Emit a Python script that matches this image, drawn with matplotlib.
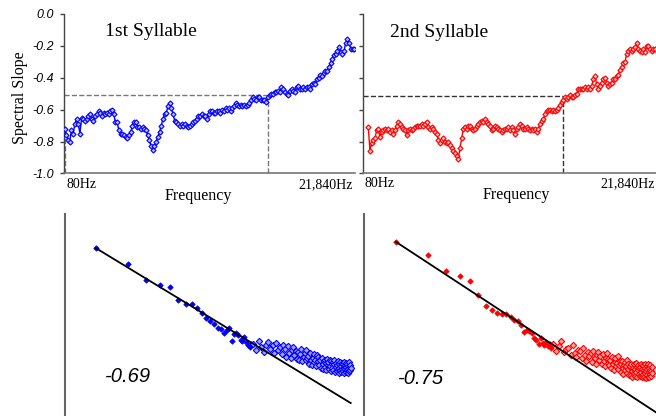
import numpy as np
import matplotlib
matplotlib.use("Agg")
import matplotlib.pyplot as plt

# ==============================
# DATA
# ==============================

f_lo, f_hi = 80, 21840

# spectral slope per frequency band, 1st syllable
slope_1 = [
    -0.72, -0.76, -0.79, -0.80, -0.73, -0.75, -0.69, -0.66, -0.69, -0.75,
    -0.65, -0.66, -0.67, -0.66, -0.64, -0.63, -0.66, -0.67, -0.64, -0.63,
    -0.61, -0.62, -0.64, -0.62, -0.63, -0.62, -0.63, -0.61, -0.60, -0.63,
    -0.68, -0.68, -0.73, -0.75, -0.75, -0.76, -0.77, -0.78, -0.76, -0.74,
    -0.70, -0.68, -0.68, -0.71, -0.71, -0.72, -0.71, -0.72, -0.73, -0.76,
    -0.79, -0.83, -0.85, -0.83, -0.80, -0.77, -0.74, -0.70, -0.66, -0.63,
    -0.62, -0.58, -0.56, -0.59, -0.63, -0.67, -0.68, -0.69, -0.70, -0.69,
    -0.70, -0.69, -0.70, -0.71, -0.70, -0.69, -0.68, -0.67, -0.66, -0.64,
    -0.64, -0.63, -0.64, -0.64, -0.66, -0.63, -0.61, -0.61, -0.62, -0.62,
    -0.61, -0.61, -0.62, -0.60, -0.61, -0.59, -0.60, -0.59, -0.61, -0.59,
    -0.58, -0.56, -0.57, -0.58, -0.57, -0.58, -0.57, -0.58, -0.57, -0.56,
    -0.54, -0.52, -0.53, -0.54, -0.52, -0.52, -0.54, -0.54, -0.54, -0.55,
    -0.52, -0.51, -0.50, -0.50, -0.49, -0.49, -0.48, -0.49, -0.46, -0.47,
    -0.49, -0.50, -0.51, -0.48, -0.47, -0.48, -0.49, -0.46, -0.45, -0.47,
    -0.47, -0.46, -0.47, -0.46, -0.46, -0.47, -0.44, -0.43, -0.44, -0.41,
    -0.40, -0.38, -0.39, -0.37, -0.36, -0.36, -0.33, -0.31, -0.28, -0.26,
    -0.25, -0.23, -0.21, -0.24, -0.25, -0.23, -0.18, -0.16, -0.18, -0.22,
    -0.22, -0.22,
]

# spectral slope per frequency band, 2nd syllable
slope_2 = [
    -0.71, -0.86, -0.81, -0.79, -0.78, -0.73, -0.72, -0.77, -0.74, -0.73,
    -0.72, -0.73, -0.72, -0.74, -0.73, -0.75, -0.73, -0.70, -0.68, -0.69,
    -0.71, -0.72, -0.73, -0.76, -0.73, -0.72, -0.73, -0.72, -0.71, -0.70,
    -0.70, -0.70, -0.69, -0.70, -0.69, -0.68, -0.71, -0.72, -0.71, -0.72,
    -0.74, -0.75, -0.79, -0.81, -0.79, -0.78, -0.80, -0.81, -0.80, -0.82,
    -0.84, -0.86, -0.87, -0.89, -0.91, -0.84, -0.78, -0.72, -0.71, -0.72,
    -0.70, -0.70, -0.72, -0.73, -0.72, -0.70, -0.69, -0.68, -0.67, -0.68,
    -0.66, -0.68, -0.69, -0.70, -0.73, -0.72, -0.70, -0.71, -0.72, -0.73,
    -0.74, -0.73, -0.72, -0.72, -0.71, -0.73, -0.71, -0.73, -0.75, -0.72,
    -0.71, -0.69, -0.70, -0.72, -0.72, -0.71, -0.72, -0.73, -0.72, -0.73,
    -0.72, -0.74, -0.72, -0.69, -0.67, -0.66, -0.63, -0.61, -0.60, -0.60,
    -0.61, -0.60, -0.61, -0.60, -0.59, -0.57, -0.55, -0.54, -0.52, -0.53,
    -0.52, -0.51, -0.52, -0.52, -0.51, -0.50, -0.47, -0.47, -0.47, -0.47,
    -0.46, -0.47, -0.46, -0.47, -0.45, -0.41, -0.39, -0.44, -0.47, -0.45,
    -0.43, -0.41, -0.40, -0.43, -0.45, -0.44, -0.43, -0.41, -0.41, -0.39,
    -0.38, -0.35, -0.33, -0.31, -0.30, -0.25, -0.23, -0.22, -0.23, -0.22,
    -0.21, -0.18, -0.22, -0.23, -0.24, -0.22, -0.24, -0.20, -0.20, -0.22,
    -0.23, -0.22, -0.22,
]

# dashed reference (frequency, slope)
cut_1 = (15330, -0.508)
cut_2 = (14830, -0.515)

yticks = [0.0, -0.2, -0.4, -0.6, -0.8, -1.0]
ytick_labels = ["0.0", "-0.2", "-0.4", "-0.6", "-0.8", "-1.0"]

# log power spectrum (relative log10 power) per frequency bin
bins_lo = list(range(1, 30))
pow_lo_1 = [
    0.00, -0.17, -0.34, -0.40, -0.42, -0.56, -0.60, -0.60, -0.64, -0.69,
    -0.75, -0.78, -0.81, -0.85, -0.86, -0.91, -0.87, -0.85, -0.99, -0.92,
    -0.91, -0.93, -0.98, -0.99, -0.95, -1.00, -1.03, -1.06, -1.02,
]
pow_lo_2 = [
    0.00, -0.14, -0.32, -0.37, -0.42, -0.57, -0.69, -0.73, -0.77, -0.78,
    -0.78, -0.81, -0.84, -0.85, -0.90, -0.97, -0.95, -0.96, -0.98, -1.04,
    -1.06, -1.10, -1.04, -1.09, -1.11, -1.08, -1.12, -1.10, -1.14,
]

bins_hi_1 = list(range(30, 252, 2))
pow_hi_1 = [
    -1.02, -1.09, -0.99, -1.06, -1.11, -1.03, -1.00, -1.08,
    -1.04, -1.12, -1.01, -1.09, -1.06, -1.13, -1.03,
    -1.08, -1.16, -1.05, -1.12, -1.17, -1.09, -1.06, -1.14, -1.10, -1.18,
    -1.11, -1.19, -1.13, -1.08, -1.21, -1.16, -1.12, -1.20, -1.09, -1.17,
    -1.15, -1.24, -1.12, -1.20, -1.25, -1.17, -1.13, -1.22, -1.19, -1.26,
    -1.14, -1.21, -1.16, -1.25, -1.18,
    -1.20, -1.28, -1.17, -1.24, -1.29, -1.21, -1.19, -1.27, -1.23, -1.30,
    -1.18, -1.25, -1.22, -1.29, -1.20, -1.26, -1.31, -1.21, -1.24, -1.28,
    -1.22, -1.30, -1.24, -1.19, -1.32, -1.27, -1.23, -1.31, -1.25, -1.21,
    -1.29, -1.33, -1.24, -1.28, -1.22, -1.30, -1.26, -1.32, -1.23, -1.29,
    -1.24, -1.31, -1.22, -1.28, -1.33, -1.25, -1.29, -1.23, -1.32, -1.27,
    -1.30, -1.24, -1.33, -1.26, -1.29, -1.22, -1.31, -1.27, -1.25, -1.30,
    -1.28,
]

bins_hi_2 = list(range(30, 258, 2))
pow_hi_2 = [
    -1.10, -1.18, -1.12, -1.07, -1.19, -1.15,
    -1.14, -1.22, -1.11, -1.20, -1.24, -1.16,
    -1.17, -1.25, -1.14, -1.22, -1.28, -1.19, -1.23,
    -1.20, -1.29, -1.17, -1.25, -1.31, -1.22, -1.19, -1.27,
    -1.23, -1.32, -1.21, -1.28, -1.34, -1.25, -1.20, -1.30, -1.26, -1.33,
    -1.27, -1.36, -1.24, -1.32, -1.38, -1.29, -1.25, -1.34, -1.30, -1.37,
    -1.23, -1.33, -1.28,
    -1.31, -1.40, -1.28, -1.36, -1.42, -1.33, -1.29, -1.38, -1.34, -1.41,
    -1.27, -1.37, -1.32, -1.43, -1.35,
    -1.34, -1.43, -1.31, -1.39, -1.45, -1.36, -1.32, -1.41, -1.37, -1.44,
    -1.30, -1.40, -1.35, -1.46, -1.38, -1.33, -1.42, -1.36, -1.44,
    -1.35, -1.44, -1.32, -1.40, -1.46, -1.37, -1.33, -1.42, -1.38, -1.45,
    -1.31, -1.41, -1.36, -1.47, -1.39, -1.34, -1.43, -1.37, -1.45, -1.32,
    -1.40, -1.36, -1.46, -1.38, -1.33, -1.42, -1.39, -1.44, -1.35, -1.41,
]

fit_1 = -0.69
fit_2 = -0.75

serif = "Liberation Serif"
sans = "Liberation Sans"

# ==============================
# FIGURE
# ==============================

fig = plt.figure(figsize=(6.56, 4.16), dpi=100)


def top_panel(rect, slope, color, fill, cut, xlim, title, title_xy, dash_color, show_labels):
    ax = fig.add_axes(rect)
    x = np.linspace(f_lo, f_hi, len(slope))
    ax.plot(x, slope, "-", color=color, lw=1.0, marker="D", ms=2.6,
            mfc=fill, mec=color, mew=0.8, zorder=3)
    ax.plot([xlim[0], cut[0]], [cut[1], cut[1]], "--", color=dash_color, lw=1.0, zorder=2)
    ax.plot([cut[0], cut[0]], [-1.0, cut[1]], "--", color=dash_color, lw=1.0, zorder=2)
    ax.set_xlim(*xlim)
    ax.set_ylim(-1.0, 0.0)
    for s in ["top", "right"]:
        ax.spines[s].set_visible(False)
    ax.spines["left"].set_color("#444444")
    ax.spines["bottom"].set_color("#777777")
    ax.spines["left"].set_linewidth(1.0)
    ax.spines["bottom"].set_linewidth(1.2)
    ax.set_xticks([])
    ax.set_yticks(yticks)
    if show_labels:
        ax.set_yticklabels(ytick_labels, fontstyle="italic", family=sans, fontsize=9)
    else:
        ax.set_yticklabels([])
    ax.tick_params(axis="y", length=3, width=1, color="#444444", pad=4)
    ax.text(title_xy[0], title_xy[1], title, transform=ax.transAxes,
            family=serif, fontsize=14, ha="left", va="center")
    return ax


ax1 = top_panel([0.0976, 0.583, 0.4436, 0.3834], slope_1, "#0000ff", "#b8b8ff", cut_1,
                (30, 21900), "1st Syllable", (0.141, 0.893), "#777777", True)
ax1.plot([f_lo, f_lo], [-1.0, slope_1[0]], "--", color="#777777", lw=1.0, zorder=2)
ax1.text(0.01, -0.072, "80Hz", transform=ax1.transAxes, family=serif, fontsize=10, ha="left", va="center")
ax1.text(0.992, -0.072, "21,840Hz", transform=ax1.transAxes, family=serif, fontsize=10, ha="right", va="center")
ax1.text(0.4615, -0.141, "Frequency", transform=ax1.transAxes, family=serif, fontsize=11.5, ha="center", va="center")

ax2 = top_panel([0.5529, 0.583, 0.4471, 0.3834], slope_2, "#ff0000", "#ffb8b8", cut_2,
                (-345, 21916), "2nd Syllable", (0.093, 0.881), "#333333", False)
ax2.text(0.005, -0.066, "80Hz", transform=ax2.transAxes, family=serif, fontsize=10, ha="left", va="center")
ax2.text(0.997, -0.066, "21,840Hz", transform=ax2.transAxes, family=serif, fontsize=10, ha="right", va="center")
ax2.text(0.525, -0.135, "Frequency", transform=ax2.transAxes, family=serif, fontsize=11.5, ha="center", va="center")

fig.text(20 / 656, 1 - 97.5 / 416, "Spectral Slope", rotation=90, family=serif,
         fontsize=11.5, ha="center", va="center")


def bottom_panel(rect, bins_lo, p_lo, bins_hi, p_hi, slope, color, fill, xlim, ylim, label, label_xy, k_end):
    ax = fig.add_axes(rect)
    ax.set_xscale("log")
    ax.plot(bins_lo, p_lo, "D", color=color, ms=2.8, mew=0.5, zorder=3)
    ax.plot(bins_hi, p_hi, "D", color=color, ms=3.2, mfc=fill, mec=color, mew=0.8, zorder=3)
    k = np.array([1, k_end])
    ax.plot(k, slope * np.log10(k), "-", color="black", lw=1.3, zorder=4)
    ax.set_xlim(*xlim)
    ax.set_ylim(*ylim)
    for s in ["top", "right", "bottom"]:
        ax.spines[s].set_visible(False)
    ax.spines["left"].set_color("#666666")
    ax.spines["left"].set_linewidth(1.5)
    ax.set_xticks([])
    ax.set_yticks([])
    ax.minorticks_off()
    ax.text(label_xy[0], label_xy[1], label, transform=ax.transAxes,
            family=sans, fontstyle="italic", fontsize=14.5, ha="left", va="center")
    return ax


bottom_panel([0.0986, 0.0, 0.450, 0.4856], bins_lo, pow_lo_1, bins_hi_1, pow_hi_1,
             fit_1, "#0000ff", "#a0a0ff", (0.511, 305), (-1.793, 0.363), "-0.69", (0.1365, 0.198), 250)
bottom_panel([0.5553, 0.0, 0.4447, 0.4856], bins_lo, pow_lo_2, bins_hi_2, pow_hi_2,
             fit_2, "#ff0000", "#ffa0a0", (0.507, 279.5), (-1.874, 0.298), "-0.75", (0.1166, 0.188), 300)

fig.savefig("out.png", dpi=100)
